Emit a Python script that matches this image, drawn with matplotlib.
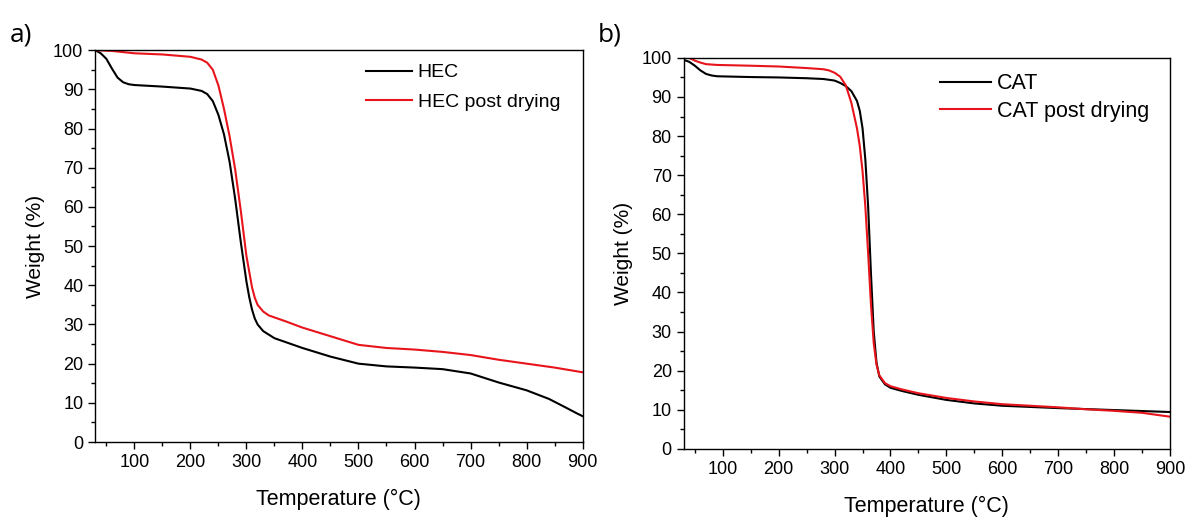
import numpy as np
import matplotlib.pyplot as plt
from matplotlib.ticker import MultipleLocator

# ============================================
# TGA curves: HEC and CAT, before / after drying
# ============================================

# Panel a) HEC
hec_temp = [30, 40, 50, 60, 70, 80, 90, 100, 150, 200, 220, 230, 240, 250, 260,
            270, 280, 290, 300, 305, 310, 315, 320, 330, 350, 400, 450, 500, 550,
            600, 650, 700, 750, 800, 840, 870, 890, 900]
hec_wt = [100, 99.2, 97.8, 95.3, 93.0, 91.8, 91.3, 91.1, 90.7, 90.2, 89.6, 88.8,
          87.0, 83.5, 78.5, 71.5, 62.0, 51.0, 41.0, 37.0, 33.8, 31.5, 30.0, 28.3,
          26.5, 24.0, 21.8, 20.0, 19.3, 19.0, 18.6, 17.5, 15.2, 13.2, 11.0, 8.8,
          7.3, 6.6]

hec_dry_temp = [30, 60, 100, 150, 200, 220, 230, 240, 250, 260, 270, 280, 290,
                300, 310, 315, 320, 330, 340, 370, 400, 450, 500, 550, 600, 650,
                700, 750, 800, 850, 900]
hec_dry_wt = [100, 99.8, 99.2, 98.9, 98.3, 97.6, 96.8, 95.0, 91.0, 85.0, 78.0,
              69.5, 59.0, 47.5, 39.5, 36.8, 35.0, 33.3, 32.3, 30.8, 29.2, 27.0,
              24.8, 24.0, 23.6, 23.0, 22.2, 21.0, 20.0, 19.0, 17.8]

# Panel b) CAT
cat_temp = [30, 40, 50, 60, 70, 80, 90, 150, 200, 250, 280, 300, 310, 320, 330,
            340, 345, 350, 355, 360, 365, 370, 375, 380, 390, 400, 420, 450,
            500, 550, 600, 700, 800, 900]
cat_wt = [99.5, 99.0, 98.0, 96.8, 95.9, 95.5, 95.3, 95.1, 95.0, 94.8, 94.6, 94.2,
          93.6, 92.8, 91.5, 89.0, 86.5, 82.0, 74.0, 62.0, 45.0, 30.0, 22.0, 18.5,
          16.5, 15.6, 14.8, 13.8, 12.5, 11.6, 11.0, 10.4, 9.9, 9.4]

cat_dry_temp = [30, 40, 50, 60, 70, 90, 150, 200, 250, 280, 290, 300, 310, 320,
                330, 340, 345, 350, 355, 360, 365, 370, 375, 380, 390, 400, 420,
                450, 500, 550, 600, 700, 750, 800, 850, 900]
cat_dry_wt = [100, 100, 99.3, 98.8, 98.4, 98.2, 98.0, 97.8, 97.4, 97.1, 96.8,
              96.2, 95.2, 93.0, 88.5, 82.0, 77.5, 71.0, 62.0, 50.0, 37.0, 27.0,
              21.5, 18.8, 16.8, 16.0, 15.2, 14.2, 13.0, 12.1, 11.4, 10.6, 10.1,
              9.7, 9.2, 8.2]

plt.rcParams["font.family"] = ["Liberation Sans", "DejaVu Sans"]

fig = plt.figure(figsize=(11.89, 5.17), dpi=100)
ax_a = fig.add_axes([0.080, 0.145, 0.410, 0.758])
ax_b = fig.add_axes([0.575, 0.132, 0.409, 0.756])

panels = [
    (ax_a, hec_temp, hec_wt, hec_dry_temp, hec_dry_wt, "HEC"),
    (ax_b, cat_temp, cat_wt, cat_dry_temp, cat_dry_wt, "CAT"),
]
# legend look per panel: font size, handle length, label spacing, anchor
legend_opts = [
    (14, 2.4, 0.6, (0.99, 1.01)),
    (15.5, 2.37, 0.3, (0.997, 1.01)),
]

for (ax, t1, w1, t2, w2, name), (lfs, hl, ls, anchor) in zip(panels, legend_opts):
    ax.plot(t1, w1, color="black", lw=1.5, label=name)
    ax.plot(t2, w2, color="#e8141c", lw=1.5, label=name + " post drying")

    ax.set_xlim(30, 900)
    ax.set_ylim(0, 100)
    ax.xaxis.set_minor_locator(MultipleLocator(50))
    ax.yaxis.set_major_locator(MultipleLocator(10))
    ax.yaxis.set_minor_locator(MultipleLocator(5))
    ax.set_xticks(np.arange(100, 901, 100))
    ax.tick_params(which="both", direction="out", top=False, right=False,
                   labelsize=13, width=1.0)
    ax.tick_params(which="major", length=5)
    ax.tick_params(which="minor", length=3)
    for sp in ax.spines.values():
        sp.set_linewidth(1.0)

    ax.set_xlabel("Temperature (°C)", fontsize=15.5, labelpad=13)
    ax.set_ylabel("Weight (%)", fontsize=15, labelpad=6)
    ax.legend(loc="upper right", frameon=False, fontsize=lfs,
              handlelength=hl, handletextpad=0.28, labelspacing=ls,
              bbox_to_anchor=anchor)

fig.text(0.008, 0.92, "a)", fontsize=19, family=["Open Sans", "DejaVu Sans"])
fig.text(0.503, 0.92, "b)", fontsize=19, family=["Open Sans", "DejaVu Sans"])

fig.savefig("out.png", dpi=100)
